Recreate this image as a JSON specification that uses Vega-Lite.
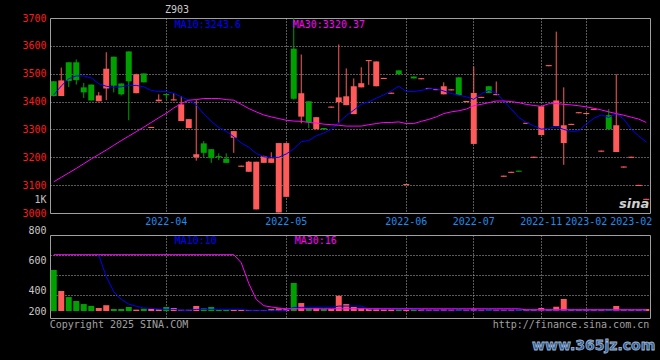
{
  "$schema": "https://vega.github.io/schema/vega-lite/v6.json",
  "background": "#000000",
  "autosize": {"type": "none"},
  "padding": {"left": 50, "top": 18, "right": 610, "bottom": 342},
  "spacing": 22,
  "bounds": "flush",
  "config": {
    "view": {"stroke": "#a0a0a0", "strokeWidth": 1},
    "axis": {"gridDash": [1, 2], "gridColor": "#b4b4b4", "gridWidth": 1, "labelFont": "DejaVu Sans Mono", "labelFontSize": 10, "ticks": false, "domain": false},
    "text": {"font": "DejaVu Sans Mono", "fontSize": 10}
  },
  "resolve": {"scale": {"x": "independent", "y": "independent"}, "axis": {"x": "independent", "y": "independent"}},
  "data": {"values": [
    {"i":0,"o":3473,"c":3420,"h":3473,"l":3418,"v":524,"m10":3424,"m30":3112,"vm10":null,"vm30":645},
    {"i":1,"o":3420,"c":3476,"h":3522,"l":3420,"v":358,"m10":3456,"m30":3128,"vm10":null,"vm30":645},
    {"i":2,"o":3541,"c":3474,"h":3541,"l":3452,"v":310,"m10":3482,"m30":3144,"vm10":null,"vm30":645},
    {"i":3,"o":3541,"c":3477,"h":3551,"l":3461,"v":279,"m10":3492,"m30":3160,"vm10":null,"vm30":645},
    {"i":4,"o":3451,"c":3433,"h":3467,"l":3413,"v":255,"m10":3492,"m30":3177,"vm10":null,"vm30":645},
    {"i":5,"o":3461,"c":3404,"h":3461,"l":3404,"v":240,"m10":3485,"m30":3194,"vm10":null,"vm30":645},
    {"i":6,"o":3401,"c":3422,"h":3434,"l":3401,"v":224,"m10":3464,"m30":3210,"vm10":642,"vm30":645},
    {"i":7,"o":3447,"c":3518,"h":3577,"l":3405,"v":246,"m10":3455,"m30":3226,"vm10":471,"vm30":645},
    {"i":8,"o":3561,"c":3457,"h":3561,"l":3433,"v":216,"m10":3451,"m30":3243,"vm10":353,"vm30":645},
    {"i":9,"o":3465,"c":3426,"h":3465,"l":3422,"v":216,"m10":3453,"m30":3260,"vm10":292,"vm30":645},
    {"i":10,"o":3580,"c":3473,"h":3580,"l":3333,"v":232,"m10":3458,"m30":3276,"vm10":255,"vm30":645},
    {"i":11,"o":3430,"c":3498,"h":3500,"l":3430,"v":211,"m10":3458,"m30":3292,"vm10":237,"vm30":645},
    {"i":12,"o":3501,"c":3469,"h":3501,"l":3469,"v":218,"m10":3453,"m30":3308,"vm10":224,"vm30":645},
    {"i":13,"o":3305,"c":3309,"h":3309,"l":3305,"v":218,"m10":3440,"m30":3325,"vm10":221,"vm30":645},
    {"i":14,"o":3401,"c":3407,"h":3426,"l":3401,"v":213,"m10":3436,"m30":3342,"vm10":216,"vm30":645},
    {"i":15,"o":3427,"c":3423,"h":3427,"l":3408,"v":232,"m10":3436,"m30":3358,"vm10":213,"vm30":645},
    {"i":16,"o":3404,"c":3408,"h":3430,"l":3404,"v":224,"m10":3430,"m30":3377,"vm10":213,"vm30":645},
    {"i":17,"o":3330,"c":3390,"h":3419,"l":3330,"v":210,"m10":3417,"m30":3393,"vm10":206,"vm30":645},
    {"i":18,"o":3305,"c":3337,"h":3337,"l":3305,"v":210,"m10":3405,"m30":3405,"vm10":206,"vm30":645},
    {"i":19,"o":3200,"c":3211,"h":3405,"l":3188,"v":240,"m10":3388,"m30":3407,"vm10":213,"vm30":645},
    {"i":20,"o":3250,"c":3216,"h":3258,"l":3200,"v":221,"m10":3355,"m30":3411,"vm10":213,"vm30":645},
    {"i":21,"o":3229,"c":3197,"h":3229,"l":3180,"v":232,"m10":3329,"m30":3411,"vm10":213,"vm30":645},
    {"i":22,"o":3204,"c":3200,"h":3214,"l":3190,"v":210,"m10":3307,"m30":3411,"vm10":213,"vm30":645},
    {"i":23,"o":3195,"c":3180,"h":3214,"l":3180,"v":210,"m10":3293,"m30":3407,"vm10":213,"vm30":645},
    {"i":24,"o":3270,"c":3294,"h":3294,"l":3216,"v":210,"m10":3274,"m30":3405,"vm10":213,"vm30":645},
    {"i":25,"o":3166,"c":3170,"h":3170,"l":3166,"v":208,"m10":3251,"m30":3390,"vm10":213,"vm30":581},
    {"i":26,"o":3148,"c":3184,"h":3187,"l":3148,"v":208,"m10":3236,"m30":3375,"vm10":206,"vm30":418},
    {"i":27,"o":3013,"c":3184,"h":3184,"l":3013,"v":208,"m10":3214,"m30":3363,"vm10":206,"vm30":292},
    {"i":28,"o":3180,"c":3204,"h":3206,"l":3180,"v":208,"m10":3202,"m30":3352,"vm10":206,"vm30":242},
    {"i":29,"o":3180,"c":3196,"h":3218,"l":3180,"v":216,"m10":3199,"m30":3345,"vm10":206,"vm30":232},
    {"i":30,"o":3002,"c":3251,"h":3251,"l":3002,"v":221,"m10":3200,"m30":3339,"vm10":206,"vm30":224},
    {"i":31,"o":3058,"c":3251,"h":3251,"l":3058,"v":216,"m10":3212,"m30":3333,"vm10":206,"vm30":218},
    {"i":32,"o":3590,"c":3410,"h":3700,"l":3407,"v":421,"m10":3230,"m30":3330,"vm10":229,"vm30":218},
    {"i":33,"o":3346,"c":3430,"h":3569,"l":3322,"v":263,"m10":3256,"m30":3329,"vm10":229,"vm30":218},
    {"i":34,"o":3401,"c":3326,"h":3401,"l":3305,"v":221,"m10":3260,"m30":3325,"vm10":229,"vm30":218},
    {"i":35,"o":3301,"c":3344,"h":3344,"l":3301,"v":221,"m10":3277,"m30":3323,"vm10":229,"vm30":218},
    {"i":36,"o":3305,"c":3300,"h":3305,"l":3300,"v":216,"m10":3287,"m30":3319,"vm10":229,"vm30":218},
    {"i":37,"o":3378,"c":3382,"h":3382,"l":3378,"v":216,"m10":3301,"m30":3317,"vm10":229,"vm30":218},
    {"i":38,"o":3398,"c":3415,"h":3605,"l":3322,"v":320,"m10":3325,"m30":3315,"vm10":239,"vm30":218},
    {"i":39,"o":3387,"c":3419,"h":3519,"l":3387,"v":255,"m10":3349,"m30":3312,"vm10":239,"vm30":218},
    {"i":40,"o":3355,"c":3455,"h":3483,"l":3355,"v":232,"m10":3369,"m30":3312,"vm10":239,"vm30":218},
    {"i":41,"o":3451,"c":3466,"h":3523,"l":3451,"v":221,"m10":3390,"m30":3312,"vm10":239,"vm30":218},
    {"i":42,"o":3545,"c":3549,"h":3549,"l":3460,"v":221,"m10":3399,"m30":3317,"vm10":216,"vm30":218},
    {"i":43,"o":3455,"c":3544,"h":3544,"l":3455,"v":221,"m10":3412,"m30":3321,"vm10":216,"vm30":218},
    {"i":44,"o":3481,"c":3485,"h":3485,"l":3481,"v":214,"m10":3424,"m30":3325,"vm10":216,"vm30":218},
    {"i":45,"o":3428,"c":3432,"h":3432,"l":3428,"v":214,"m10":3438,"m30":3325,"vm10":216,"vm30":218},
    {"i":46,"o":3512,"c":3498,"h":3512,"l":3498,"v":214,"m10":3455,"m30":3327,"vm10":216,"vm30":218},
    {"i":47,"o":3100,"c":3104,"h":3104,"l":3100,"v":212,"m10":3436,"m30":3321,"vm10":216,"vm30":218},
    {"i":48,"o":3490,"c":3483,"h":3490,"l":3483,"v":214,"m10":3436,"m30":3321,"vm10":216,"vm30":218},
    {"i":49,"o":3480,"c":3484,"h":3484,"l":3480,"v":214,"m10":3440,"m30":3329,"vm10":208,"vm30":218},
    {"i":50,"o":3445,"c":3449,"h":3449,"l":3445,"v":212,"m10":3446,"m30":3336,"vm10":208,"vm30":218},
    {"i":51,"o":3441,"c":3445,"h":3445,"l":3441,"v":212,"m10":3446,"m30":3345,"vm10":208,"vm30":218},
    {"i":52,"o":3426,"c":3455,"h":3469,"l":3426,"v":214,"m10":3438,"m30":3357,"vm10":208,"vm30":218},
    {"i":53,"o":3440,"c":3444,"h":3444,"l":3440,"v":212,"m10":3429,"m30":3363,"vm10":208,"vm30":218},
    {"i":54,"o":3487,"c":3423,"h":3487,"l":3423,"v":214,"m10":3423,"m30":3367,"vm10":208,"vm30":218},
    {"i":55,"o":3398,"c":3402,"h":3402,"l":3398,"v":212,"m10":3417,"m30":3373,"vm10":208,"vm30":218},
    {"i":56,"o":3248,"c":3431,"h":3526,"l":3248,"v":216,"m10":3408,"m30":3385,"vm10":208,"vm30":218},
    {"i":57,"o":3413,"c":3417,"h":3417,"l":3413,"v":212,"m10":3428,"m30":3390,"vm10":208,"vm30":218},
    {"i":58,"o":3455,"c":3431,"h":3455,"l":3431,"v":214,"m10":3440,"m30":3396,"vm10":208,"vm30":218},
    {"i":59,"o":3423,"c":3427,"h":3472,"l":3423,"v":212,"m10":3431,"m30":3402,"vm10":208,"vm30":218},
    {"i":60,"o":3130,"c":3134,"h":3134,"l":3130,"v":212,"m10":3402,"m30":3402,"vm10":208,"vm30":218},
    {"i":61,"o":3144,"c":3148,"h":3148,"l":3144,"v":212,"m10":3373,"m30":3400,"vm10":208,"vm30":218},
    {"i":62,"o":3152,"c":3148,"h":3152,"l":3148,"v":212,"m10":3343,"m30":3396,"vm10":208,"vm30":218},
    {"i":63,"o":3320,"c":3324,"h":3324,"l":3320,"v":212,"m10":3325,"m30":3390,"vm10":208,"vm30":210},
    {"i":64,"o":3198,"c":3202,"h":3202,"l":3198,"v":212,"m10":3313,"m30":3386,"vm10":208,"vm30":210},
    {"i":65,"o":3280,"c":3383,"h":3383,"l":3280,"v":224,"m10":3301,"m30":3383,"vm10":208,"vm30":210},
    {"i":66,"o":3527,"c":3531,"h":3531,"l":3527,"v":212,"m10":3304,"m30":3392,"vm10":208,"vm30":210},
    {"i":67,"o":3312,"c":3404,"h":3651,"l":3312,"v":234,"m10":3310,"m30":3393,"vm10":208,"vm30":210},
    {"i":68,"o":3251,"c":3315,"h":3451,"l":3173,"v":295,"m10":3300,"m30":3390,"vm10":208,"vm30":210},
    {"i":69,"o":3316,"c":3320,"h":3320,"l":3316,"v":212,"m10":3293,"m30":3388,"vm10":208,"vm30":210},
    {"i":70,"o":3358,"c":3362,"h":3362,"l":3358,"v":212,"m10":3295,"m30":3385,"vm10":208,"vm30":210},
    {"i":71,"o":3355,"c":3359,"h":3359,"l":3355,"v":212,"m10":3319,"m30":3381,"vm10":208,"vm30":210},
    {"i":72,"o":3370,"c":3374,"h":3374,"l":3370,"v":212,"m10":3340,"m30":3376,"vm10":208,"vm30":210},
    {"i":73,"o":3220,"c":3224,"h":3224,"l":3220,"v":212,"m10":3352,"m30":3370,"vm10":208,"vm30":210},
    {"i":74,"o":3351,"c":3301,"h":3373,"l":3301,"v":214,"m10":3343,"m30":3363,"vm10":208,"vm30":210},
    {"i":75,"o":3219,"c":3315,"h":3498,"l":3219,"v":240,"m10":3357,"m30":3357,"vm10":208,"vm30":210},
    {"i":76,"o":3163,"c":3167,"h":3167,"l":3163,"v":212,"m10":3337,"m30":3351,"vm10":208,"vm30":210},
    {"i":77,"o":3198,"c":3202,"h":3202,"l":3198,"v":212,"m10":3301,"m30":3344,"vm10":208,"vm30":210},
    {"i":78,"o":3097,"c":3101,"h":3101,"l":3097,"v":212,"m10":3277,"m30":3337,"vm10":208,"vm30":210},
    {"i":79,"o":3047,"c":3051,"h":3051,"l":3047,"v":216,"m10":3254,"m30":3325,"vm10":208,"vm30":210}
  ]},
  "vconcat": [
    {
      "width": 600,
      "height": 195,
      "title": {"text": "Z903", "anchor": "start", "frame": "group", "dx": 115, "offset": -2, "fontSize": 10, "font": "DejaVu Sans Mono", "fontWeight": "normal", "color": "#cccccc"},
      "resolve": {"axis": {"x": "independent", "y": "independent"}},
      "encoding": {
        "x": {"field": "i", "type": "ordinal", "scale": {"paddingInner": 0.2, "paddingOuter": 0.1}, "axis": null}
      },
      "layer": [
        {
          "mark": {"type": "rule", "strokeWidth": 1},
          "encoding": {
            "x": {
              "field": "i", "type": "ordinal",
              "scale": {"paddingInner": 0.2, "paddingOuter": 0.1},
              "axis": {
                "title": null,
                "orient": "bottom",
                "values": [15, 31, 47, 56, 65, 71, 77],
                "labelExpr": "datum.value == 15 ? '2022-04' : datum.value == 31 ? '2022-05' : datum.value == 47 ? '2022-06' : datum.value == 56 ? '2022-07' : datum.value == 65 ? '2022-11' : '2023-02'",
                "labelColor": "#1f8ceb",
                "labelAngle": 0,
                "labelAlign": "center",
                "labelOverlap": false,
                "labelPadding": 3,
                "grid": true,
                "gridOpacity": {"condition": {"test": "datum.value == 77", "value": 0}, "value": 1}
              }
            },
            "y": {
              "field": "l", "type": "quantitative",
              "scale": {"domain": [3000, 3700], "zero": false, "nice": false},
              "axis": {
                "title": null,
                "orient": "left",
                "values": [3000, 3050, 3100, 3200, 3300, 3400, 3500, 3600, 3700],
                "format": "d",
                "labelExpr": "datum.value == 3050 ? '1K' : datum.label",
                "labelColor": {"condition": {"test": "datum.value == 3050", "value": "#c0c0c0"}, "value": "#ff1a1a"},
                "labelPadding": 4,
                "grid": true,
                "gridOpacity": {"condition": {"test": "datum.value == 3050 || datum.value == 3000 || datum.value == 3700", "value": 0}, "value": 1}
              }
            },
            "y2": {"field": "h"},
            "color": {"condition": {"test": "datum.c >= datum.o", "value": "#ff5a5a"}, "value": "#00a000"}
          }
        },
        {
          "mark": {"type": "bar"},
          "encoding": {
            "y": {"field": "o", "type": "quantitative", "axis": null},
            "y2": {"field": "c"},
            "color": {"condition": {"test": "datum.c >= datum.o", "value": "#ff5a5a"}, "value": "#00a000"}
          }
        },
        {
          "mark": {"type": "line", "color": "#0000ff", "strokeWidth": 1},
          "encoding": {"y": {"field": "m10", "type": "quantitative", "axis": null}}
        },
        {
          "mark": {"type": "line", "color": "#ff00ff", "strokeWidth": 1},
          "encoding": {"y": {"field": "m30", "type": "quantitative", "axis": null}}
        },
        {
          "data": {"values": [{"t": "MA10:3243.6"}]},
          "mark": {"type": "text", "align": "left", "baseline": "top", "dy": 2, "dx": 1, "color": "#0000ff"},
          "encoding": {
            "x": {"datum": 16, "type": "ordinal", "axis": null},
            "y": {"datum": 3700, "type": "quantitative", "axis": null},
            "text": {"field": "t"}
          }
        },
        {
          "data": {"values": [{"t": "MA30:3320.37"}]},
          "mark": {"type": "text", "align": "left", "baseline": "top", "dy": 2, "dx": -1, "color": "#ff00ff"},
          "encoding": {
            "x": {"datum": 32, "type": "ordinal", "axis": null},
            "y": {"datum": 3700, "type": "quantitative", "axis": null},
            "text": {"field": "t"}
          }
        },
        {
          "data": {"values": [{"t": "sina"}]},
          "mark": {"type": "text", "align": "right", "baseline": "bottom", "dy": -2, "dx": 3, "font": "DejaVu Sans", "fontSize": 13, "fontWeight": "bold", "fontStyle": "italic", "color": "#d0d0d0"},
          "encoding": {
            "x": {"datum": 79, "type": "ordinal", "axis": null},
            "y": {"datum": 3000, "type": "quantitative", "axis": null},
            "text": {"field": "t"}
          }
        }
      ]
    },
    {
      "width": 600,
      "height": 83,
      "resolve": {"axis": {"x": "independent", "y": "independent"}},
      "encoding": {
        "x": {"field": "i", "type": "ordinal", "scale": {"paddingInner": 0.2, "paddingOuter": 0.1}, "axis": null}
      },
      "layer": [
        {
          "mark": {"type": "bar"},
          "encoding": {
            "x": {
              "field": "i", "type": "ordinal",
              "scale": {"paddingInner": 0.2, "paddingOuter": 0.1},
              "axis": {"title": null, "orient": "bottom", "values": [15, 31, 47, 56, 65, 71], "labels": false, "grid": true}
            },
            "y": {
              "field": "v", "type": "quantitative",
              "scale": {"domain": [145, 800], "zero": false, "nice": false},
              "axis": {
                "title": null,
                "orient": "left",
                "values": [200, 400, 600, 800],
                "format": "d",
                "grid": false,
                "labelColor": "#c8c8c8",
                "labelPadding": 4,
                "labelBaseline": {"condition": [{"test": "datum.value == 800", "value": "bottom"}, {"test": "datum.value == 400", "value": "top"}], "value": "middle"}
              }
            },
            "y2": {"datum": 200},
            "color": {"condition": {"test": "datum.c >= datum.o", "value": "#ff5a5a"}, "value": "#00a000"}
          }
        },
        {
          "mark": {"type": "line", "color": "#0000ff", "strokeWidth": 1},
          "encoding": {
            "y": {
              "field": "vm10", "type": "quantitative",
              "axis": {"title": null, "orient": "left", "values": [326, 484, 642], "labels": false, "grid": true}
            }
          }
        },
        {
          "mark": {"type": "line", "color": "#ff00ff", "strokeWidth": 1},
          "encoding": {"y": {"field": "vm30", "type": "quantitative", "axis": null}}
        },
        {
          "data": {"values": [{"t": "MA10:10"}]},
          "mark": {"type": "text", "align": "left", "baseline": "top", "dy": 1, "dx": 1, "color": "#0000ff"},
          "encoding": {
            "x": {"datum": 16, "type": "ordinal", "axis": null},
            "y": {"datum": 800, "type": "quantitative", "axis": null},
            "text": {"field": "t"}
          }
        },
        {
          "data": {"values": [{"t": "MA30:16"}]},
          "mark": {"type": "text", "align": "left", "baseline": "top", "dy": 1, "dx": 1, "color": "#ff00ff"},
          "encoding": {
            "x": {"datum": 32, "type": "ordinal", "axis": null},
            "y": {"datum": 800, "type": "quantitative", "axis": null},
            "text": {"field": "t"}
          }
        },
        {
          "data": {"values": [{"t": "Copyright 2025 SINA.COM"}]},
          "mark": {"type": "text", "align": "left", "baseline": "top", "dy": 2, "dx": -4, "color": "#a0a0a0"},
          "encoding": {
            "x": {"datum": 0, "type": "ordinal", "axis": null},
            "y": {"datum": 145, "type": "quantitative", "axis": null},
            "text": {"field": "t"}
          }
        },
        {
          "data": {"values": [{"t": "http://finance.sina.com.cn"}]},
          "mark": {"type": "text", "align": "right", "baseline": "top", "dy": 2, "dx": 3, "color": "#a0a0a0"},
          "encoding": {
            "x": {"datum": 79, "type": "ordinal", "axis": null},
            "y": {"datum": 145, "type": "quantitative", "axis": null},
            "text": {"field": "t"}
          }
        },
        {
          "data": {"values": [{"t": "www.365jz.com"}]},
          "mark": {"type": "text", "align": "right", "baseline": "middle", "dy": 28, "dx": 9, "font": "DejaVu Sans", "fontSize": 14, "fontWeight": "bold", "color": "#2e5c9a", "stroke": "#9fb6d0", "strokeWidth": 0.8},
          "encoding": {
            "x": {"datum": 79, "type": "ordinal", "axis": null},
            "y": {"datum": 145, "type": "quantitative", "axis": null},
            "text": {"field": "t"}
          }
        }
      ]
    }
  ]
}
